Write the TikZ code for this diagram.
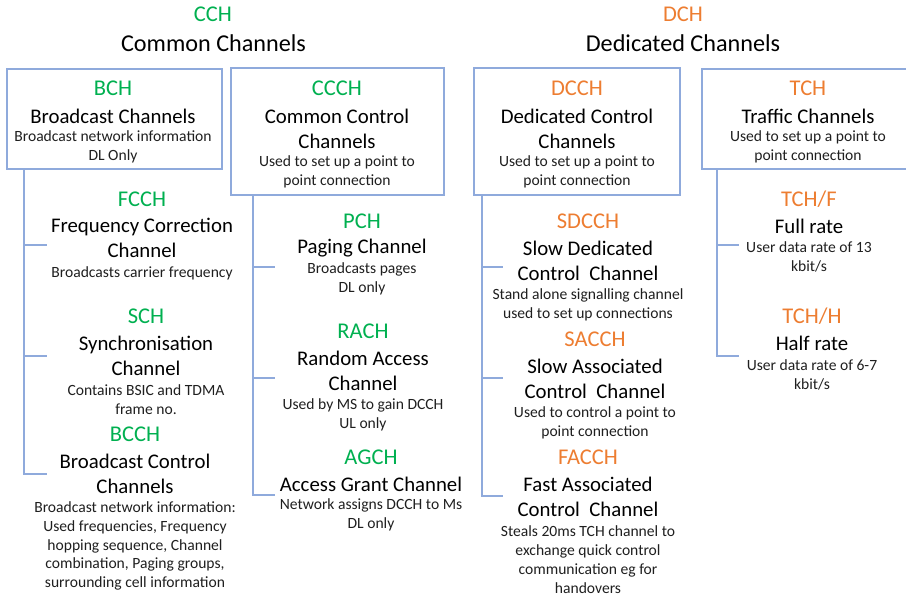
\documentclass[tikz,border=0pt]{standalone}
\usepackage{fontspec}
\setmainfont{Carlito}
\usetikzlibrary{calc}

\definecolor{cgreen}{RGB}{0,176,80}
\definecolor{dorange}{RGB}{237,125,49}
\definecolor{lineblue}{RGB}{143,170,220}

\tikzset{
  code/.style={font=\fontsize{22.5}{27}\selectfont, inner sep=0pt},
  head/.style={font=\fontsize{24.2}{29}\selectfont, inner sep=0pt},
  title/.style={font=\fontsize{20.8}{25}\selectfont, align=center, inner sep=0pt},
  info/.style={font=\fontsize{15.6}{18.9}\selectfont, align=center, inner sep=0pt, text=black!88},
  chbox/.style={draw=lineblue, line width=1.3pt, inner sep=0pt},
  branch/.style={draw=lineblue, line width=1.3pt}
}

\begin{document}
\begin{tikzpicture}[x=1pt,y=-1pt]
\useasboundingbox (0,0) rectangle (906,596);
\clip (0,0) rectangle (906,596);
% headers
\node[code,text=cgreen] (cch) at (213,14) {CCH};
\node[head] (cch-n) at (213.5,43) {Common Channels};
\node[code,text=dorange] (dch) at (683,14) {DCH};
\node[head] (dch-n) at (683,43) {Dedicated Channels};

% boxes
\node[chbox, minimum width=215pt, minimum height=100pt] (bch)  at (114.5,119) {};
\node[chbox, minimum width=213pt, minimum height=127pt] (ccch) at (337.5,131.5) {};
\node[chbox, minimum width=206pt, minimum height=127pt] (dcch) at (577,131.5) {};
\node[chbox, minimum width=214pt, minimum height=100pt] (tch)  at (809,119) {};

% box texts
\node[code,text=cgreen] (bch-c) at (113,88) {BCH};
\node[title] (bch-n) at (113,116) {Broadcast Channels};
\node[info] (bch-d) at (113,146.5) {Broadcast network information\\DL Only};

\node[code,text=cgreen] (ccch-c) at (337,88) {CCCH};
\node[title] (ccch-n) at (337,128.5) {Common Control\\Channels};
\node[info] (ccch-d) at (337,172) {Used to set up a point to\\point connection};

\node[code,text=dorange] (dcch-c) at (577,88) {DCCH};
\node[title] (dcch-n) at (577,128.5) {Dedicated Control\\Channels};
\node[info] (dcch-d) at (577,172) {Used to set up a point to\\point connection};

\node[code,text=dorange] (tch-c) at (808,88) {TCH};
\node[title] (tch-n) at (808,116) {Traffic Channels};
\node[info] (tch-d) at (808,146.5) {Used to set up a point to\\point connection};

% broadcast channels
\node[code,text=cgreen] (fcch) at (142,199) {FCCH};
\node[title] (fcch-n) at (142,238) {Frequency Correction\\Channel};
\node[info] (fcch-d) at (142,273) {Broadcasts carrier frequency};

\node[code,text=cgreen] (sch) at (146,316) {SCH};
\node[title] (sch-n) at (146,356) {Synchronisation\\Channel};
\node[info] (sch-d) at (146,399.5) {Contains BSIC and TDMA\\frame no.};

\node[code,text=cgreen] (bcch) at (135,434) {BCCH};
\node[title] (bcch-n) at (135,473.5) {Broadcast Control\\Channels};
\node[info] (bcch-d) at (135,546) {Broadcast network information:\\Used frequencies, Frequency\\hopping sequence, Channel\\combination, Paging groups,\\surrounding cell information};

% common control channels
\node[code,text=cgreen] (pch) at (362,221) {PCH};
\node[title] (pch-n) at (362,248) {Paging Channel};
\node[info] (pch-d) at (362,278.5) {Broadcasts pages\\DL only};

\node[code,text=cgreen] (rach) at (363,331) {RACH};
\node[title] (rach-n) at (363,370.5) {Random Access\\Channel};
\node[info] (rach-d) at (363,414.5) {Used by MS to gain DCCH\\UL only};

\node[code,text=cgreen] (agch) at (371,457) {AGCH};
\node[title] (agch-n) at (371,484) {Access Grant Channel};
\node[info] (agch-d) at (371,514.5) {Network assigns DCCH to Ms\\DL only};

% dedicated control channels
\node[code,text=dorange] (sdcch) at (588,221) {SDCCH};
\node[title] (sdcch-n) at (588,260.5) {Slow Dedicated\\Control\ \ Channel};
\node[info] (sdcch-d) at (588,304.5) {Stand alone signalling channel\\used to set up connections};

\node[code,text=dorange] (sacch) at (595,339) {SACCH};
\node[title] (sacch-n) at (595,378.5) {Slow Associated\\Control\ \ Channel};
\node[info] (sacch-d) at (595,422.5) {Used to control a point to\\point connection};

\node[code,text=dorange] (facch) at (588,457) {FACCH};
\node[title] (facch-n) at (588,496.5) {Fast Associated\\Control\ \ Channel};
\node[info] (facch-d) at (588,559.5) {Steals 20ms TCH channel to\\exchange quick control\\communication eg for\\handovers};

% traffic channels
\node[code,text=dorange] (tchf) at (809,199) {TCH/F};
\node[title] (tchf-n) at (809,226) {Full rate};
\node[info] (tchf-d) at (809,256.5) {User data rate of 13\\kbit/s};

\node[code,text=dorange] (tchh) at (812,316) {TCH/H};
\node[title] (tchh-n) at (812,343) {Half rate};
\node[info] (tchh-d) at (812,374.5) {User data rate of 6-7\\kbit/s};

% tree lines
\coordinate (bch-s) at (24,169);
\coordinate (ccch-s) at (253,195);
\coordinate (dcch-s) at (482,195);
\coordinate (tch-s) at (717,169);
\coordinate (fcch-t) at (47,245);
\coordinate (sch-t) at (47,356);
\coordinate (bcch-t) at (47,474);
\coordinate (pch-t) at (275,267);
\coordinate (rach-t) at (275,378);
\coordinate (agch-t) at (275,495);
\coordinate (sdcch-t) at (503,267);
\coordinate (sacch-t) at (503,378);
\coordinate (facch-t) at (503,496);
\coordinate (tchf-t) at (739,245);
\coordinate (tchh-t) at (739,356);
\foreach \t in {fcch,sch,bcch}
  \draw[branch] (bch-s) |- (\t-t);
\foreach \t in {pch,rach,agch}
  \draw[branch] (ccch-s) |- (\t-t);
\foreach \t in {sdcch,sacch,facch}
  \draw[branch] (dcch-s) |- (\t-t);
\foreach \t in {tchf,tchh}
  \draw[branch] (tch-s) |- (\t-t);
\end{tikzpicture}
\end{document}
